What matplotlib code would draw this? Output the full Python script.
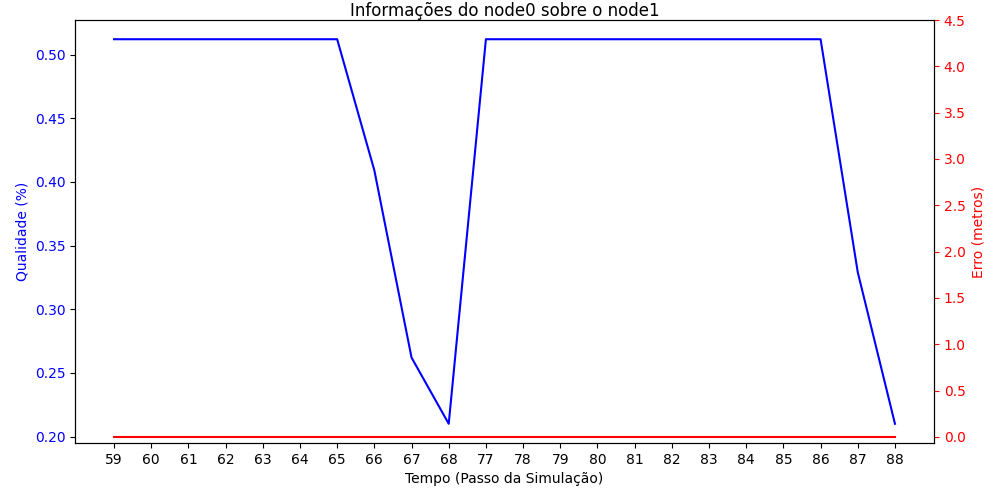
import numpy as np
import matplotlib
matplotlib.use("Agg")
import matplotlib.pyplot as plt

tempo = [59, 60, 61, 62, 63, 64, 65, 66, 67, 68,
         77, 78, 79, 80, 81, 82, 83, 84, 85, 86, 87, 88]
qualidade = [0.512, 0.512, 0.512, 0.512, 0.512, 0.512, 0.512, 0.409, 0.262, 0.210,
             0.512, 0.512, 0.512, 0.512, 0.512, 0.512, 0.512, 0.512, 0.512, 0.512, 0.329, 0.210]
erro = [0.0] * len(tempo)

x = np.arange(len(tempo))

fig, ax1 = plt.subplots(figsize=(10, 5), dpi=100)
ax1.plot(x, qualidade, color="blue")
ax1.set_xticks(x)
ax1.set_xticklabels([str(t) for t in tempo])
ax1.set_xlabel("Tempo (Passo da Simulação)")
ax1.set_ylabel("Qualidade (%)", color="blue")
ax1.tick_params(axis="y", labelcolor="blue")
ax1.set_title("Informações do node0 sobre o node1", pad=3)

ax2 = ax1.twinx()
ax2.plot(x, erro, color="red")
ax2.set_ylim(-0.065, 4.5)
ax2.set_yticks(np.arange(0, 4.51, 0.5))
ax2.set_ylabel("Erro (metros)", color="red")
ax2.tick_params(axis="y", labelcolor="red", color="red")

fig.subplots_adjust(left=0.075, right=0.934, top=0.96, bottom=0.114)
fig.savefig("out.png")
